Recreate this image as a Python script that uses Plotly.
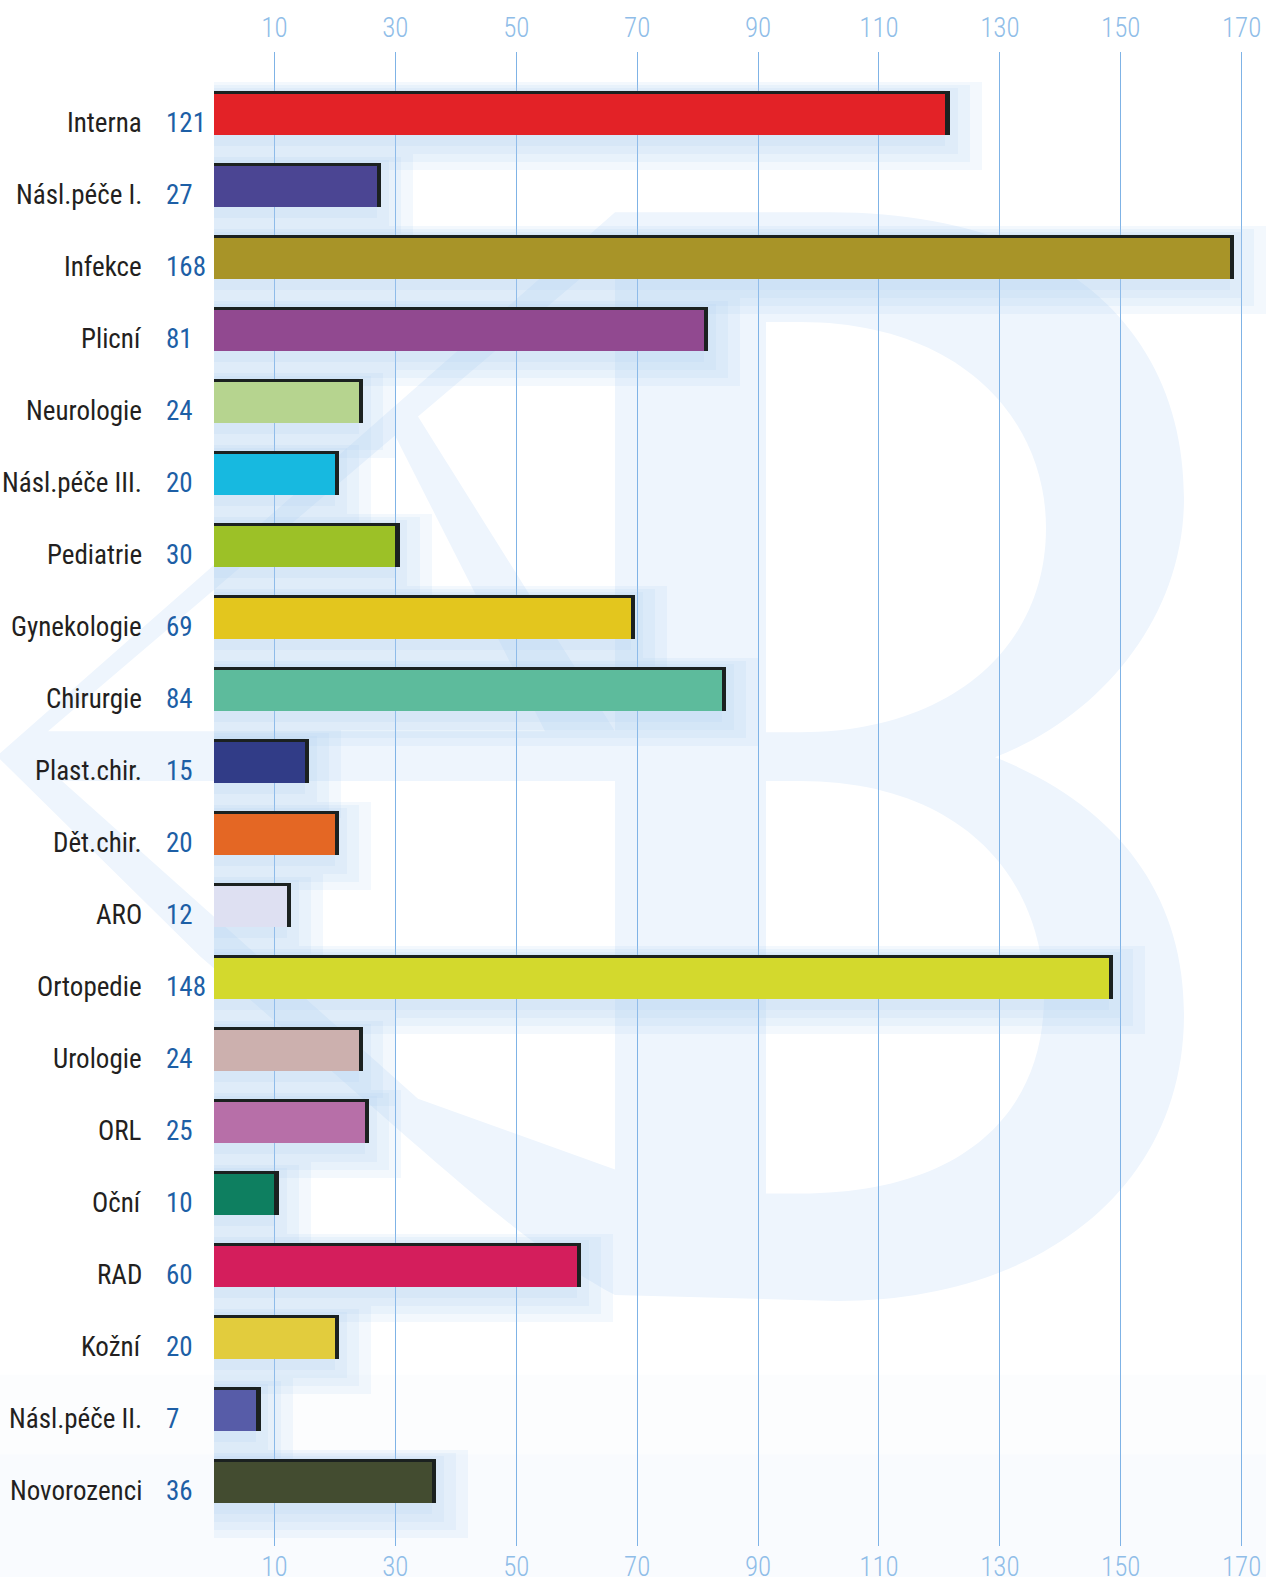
import plotly.graph_objects as go

# ---------------- data ----------------
categories = ["Interna", "Násl.péče I.", "Infekce", "Plicní", "Neurologie",
              "Násl.péče III.", "Pediatrie", "Gynekologie", "Chirurgie", "Plast.chir.",
              "Dět.chir.", "ARO", "Ortopedie", "Urologie", "ORL", "Oční", "RAD",
              "Kožní", "Násl.péče II.", "Novorozenci"]
values = [121, 27, 168, 81, 24, 20, 30, 69, 84, 15, 20, 12, 148, 24, 25, 10, 60, 20, 7, 36]
colors = ["#e32227", "#4b4593", "#a89428", "#914990", "#b6d48f",
          "#17b9e0", "#9cc127", "#e3c61e", "#5dbb9c", "#313c87",
          "#e46724", "#dee0f2", "#d3d92d", "#ccb0ae", "#b76fa8",
          "#0e7f60", "#d41e5c", "#e2cc3d", "#575ca8", "#434c30"]
tick_vals = [10, 30, 50, 70, 90, 110, 130, 150, 170]

# ---------------- geometry ----------------
FIG_W, FIG_H = 1266, 1583
L, T, R, B = 214, 52, 1266, 1552
PW, PH = R - L, B - T
FONT = ("Noto Sans ExtraCondensed Light, Noto Sans Condensed Light, Noto Sans ExtraCondensed, "
        "Noto Sans Condensed, Roboto Condensed, DejaVu Sans Condensed, Liberation Sans Narrow, "
        "Arial Narrow, sans-serif")
WM = "#eef5fd"
BEVEL = 0.7   # depth of the 3D end cap, in axis units


def pt(x, y):
    return f"{(x - L) / PW:.5f},{(B - y) / PH:.5f}"


def poly(points):
    return "M " + " L ".join(pt(x, y) for x, y in points) + " Z"


fig = go.Figure()

bar_w = 0.615
# soft glow behind each bar (stacked translucent layers)
glow_layers = [(8, -0.43, 0.79), (6, -0.39, 0.68), (4, -0.35, 0.57), (2, -0.32, 0.46)]
for extra, top, bot in glow_layers:
    fig.add_trace(go.Bar(y=categories, x=[v + extra for v in values], base=-2, orientation="h",
                         width=bot - top, offset=top,
                         marker=dict(color="rgba(170,204,240,0.14)", line_width=0),
                         hoverinfo="skip", showlegend=False))
# dark 3D edge (top + right end)
fig.add_trace(go.Bar(y=categories, x=[v + BEVEL for v in values], orientation="h",
                     width=bar_w, offset=-bar_w / 2,
                     marker=dict(color="#1b2120", line_width=0),
                     hoverinfo="skip", showlegend=False))
# coloured face
fig.add_trace(go.Bar(y=categories, x=values, orientation="h",
                     width=bar_w - 0.042, offset=-bar_w / 2 + 0.042,
                     marker=dict(color=colors, line_width=0),
                     hovertemplate="%{y}: %{x}<extra></extra>",
                     showlegend=False))
# dummy trace for the bottom axis
fig.add_trace(go.Scatter(x=[0], y=[categories[0]], xaxis="x2", mode="markers",
                         marker=dict(opacity=0), hoverinfo="skip", showlegend=False))

# ---------------- labels ----------------
annotations = []
for c, v in zip(categories, values):
    annotations.append(dict(x=(144 - L) / PW, xref="paper", y=c, yref="y", text=c,
                            xanchor="right", yanchor="middle", showarrow=False, yshift=-10,
                            font=dict(family=FONT, size=27, weight=400, color="#231f20")))
    annotations.append(dict(x=(164 - L) / PW, xref="paper", y=c, yref="y", text=str(v),
                            xanchor="left", yanchor="middle", showarrow=False, yshift=-10,
                            font=dict(family=FONT, size=27, weight=400, color="#1d5fa6")))

# ---------------- watermark shapes ----------------
shapes = []
for y0, y1, col in [(1380, 1460, "#fcfdfe"), (1460, 1583, "#f9fbfe")]:
    shapes.append(dict(type="rect", xref="paper", yref="paper", layer="below",
                       x0=(0 - L) / PW, x1=(FIG_W - L) / PW, y0=(B - y1) / PH, y1=(B - y0) / PH,
                       fillcolor=col, line_width=0))
light_paths = [
    # big wedge of the left emblem
    "M " + pt(0, 756) + " L " + pt(615, 213) + " L " + pt(615, 1300) +
    " C " + pt(520, 1250) + " " + pt(420, 1150) + " " + pt(200, 960) + " L " + pt(0, 762) + " Z",
    # letter B outline
    "M " + pt(615, 213) + " L " + pt(830, 213) + " C " + pt(1060, 213) + " " + pt(1184, 330) + " " +
    pt(1184, 500) + " C " + pt(1184, 620) + " " + pt(1100, 720) + " " + pt(995, 760) +
    " C " + pt(1120, 810) + " " + pt(1184, 900) + " " + pt(1184, 1018) +
    " C " + pt(1184, 1200) + " " + pt(1030, 1306) + " " + pt(838, 1306) + " L " + pt(615, 1300) + " Z",
]
white_paths = [
    poly([(48, 734), (395, 437), (545, 734)]),
    poly([(418, 418), (615, 250), (615, 734)]),
    poly([(418, 784), (615, 784), (615, 1174), (418, 1103)]),
    poly([(62, 784), (418, 784), (418, 1103)]),
    "M " + pt(766, 323) + " L " + pt(800, 323) + " C " + pt(960, 323) + " " + pt(1046, 420) + " " +
    pt(1046, 530) + " C " + pt(1046, 650) + " " + pt(950, 735) + " " + pt(800, 735) + " L " + pt(766, 735) + " Z",
    "M " + pt(766, 784) + " L " + pt(800, 784) + " C " + pt(960, 784) + " " + pt(1044, 880) + " " +
    pt(1044, 1000) + " C " + pt(1044, 1120) + " " + pt(960, 1198) + " " + pt(800, 1198) + " L " + pt(766, 1198) + " Z",
]
for p in light_paths:
    shapes.append(dict(type="path", path=p, xref="paper", yref="paper", layer="below",
                       fillcolor=WM, line_width=0))
for p in white_paths:
    shapes.append(dict(type="path", path=p, xref="paper", yref="paper", layer="below",
                       fillcolor="#ffffff", line_width=0))

axis_font = dict(family=FONT, size=27, weight=300, color="#8fbde8")
xr = [0, (R - L) / 6.045]
n = len(categories)
fig.update_layout(
    width=FIG_W, height=FIG_H,
    margin=dict(l=L, r=FIG_W - R, t=T, b=FIG_H - B, pad=0),
    paper_bgcolor="#ffffff", plot_bgcolor="rgba(0,0,0,0)",
    barmode="overlay", bargap=0,
    xaxis=dict(side="top", range=xr, tickvals=tick_vals, showgrid=True, gridcolor="#7fb3e6",
               gridwidth=1, zeroline=False, showline=False, ticks="", tickfont=axis_font,
               ticklabelstandoff=9, fixedrange=True),
    xaxis2=dict(side="bottom", overlaying="x", range=xr, tickvals=tick_vals, showgrid=False,
                zeroline=False, showline=False, ticks="", tickfont=axis_font,
                ticklabelstandoff=2, fixedrange=True),
    yaxis=dict(type="category", categoryorder="array", categoryarray=categories,
               range=[n - 1 + 0.9, -0.844], showticklabels=False, showgrid=False,
               zeroline=False, showline=False, ticks="", fixedrange=True),
    annotations=annotations, shapes=shapes,
    showlegend=False,
)

fig.write_html("out.html", config={"displayModeBar": False},
               post_script="document.body.style.margin='0';document.body.style.padding='0';"
                           "document.documentElement.style.overflow='hidden';")
